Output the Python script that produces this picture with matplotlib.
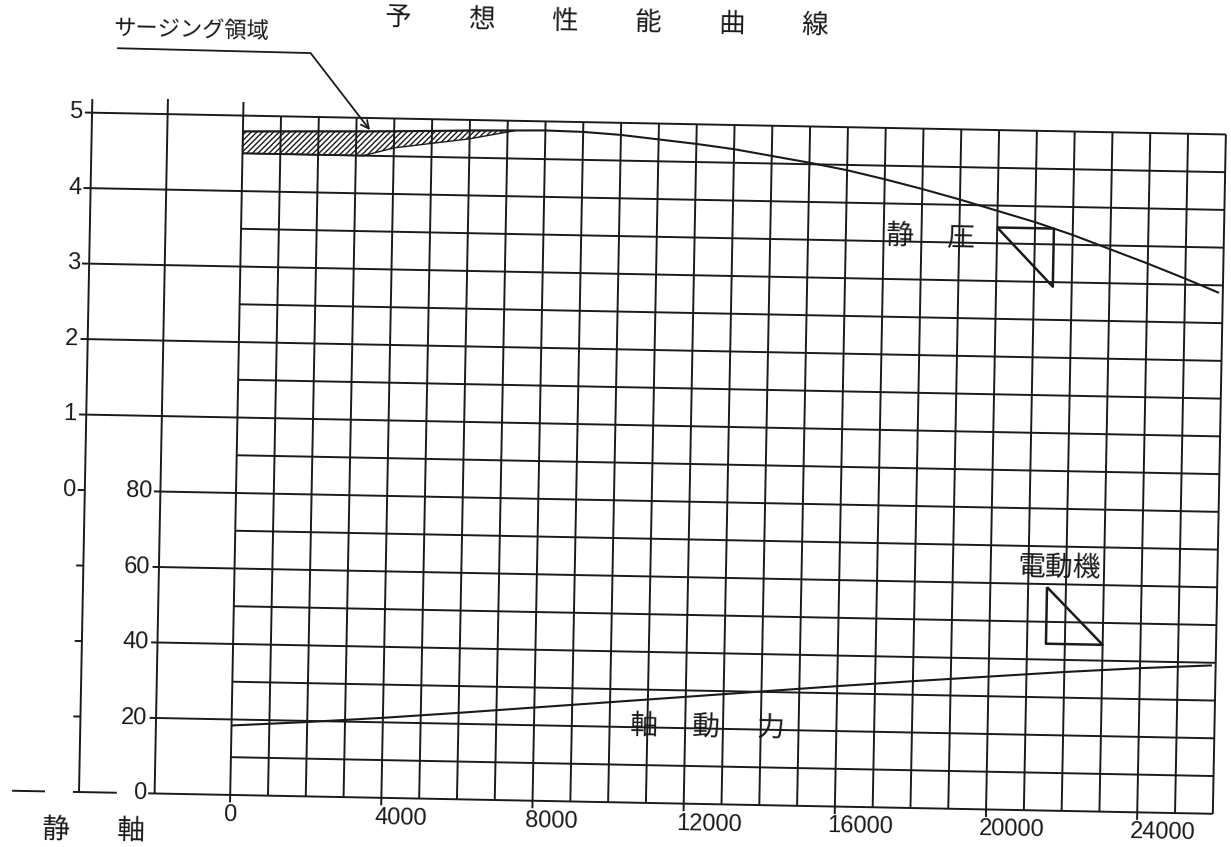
import matplotlib
matplotlib.use('Agg')
import matplotlib.pyplot as plt
from matplotlib.transforms import Affine2D
from matplotlib.patches import Polygon

plt.rcParams['font.family'] = ['Noto Sans CJK JP', 'DejaVu Sans']
plt.rcParams['hatch.color'] = '#1a1a1a'
plt.rcParams['hatch.linewidth'] = 1.0

# 横軸 (風量)
flow_ticks = [0, 4000, 8000, 12000, 16000, 20000, 24000]
flow_max = 26000
flow_step = 1000

# 静圧 曲線
sp_flow = [0, 2000, 4000, 6000, 8000, 9000, 10000, 11000, 12000, 13000, 14000, 15000,
           16000, 17000, 18000, 19000, 20000, 21000, 22000, 23000, 24000, 25000, 25900]
sp_val = [4.79, 4.81, 4.83, 4.86, 4.88, 4.87, 4.84, 4.79, 4.74, 4.68, 4.60, 4.52,
          4.43, 4.32, 4.20, 4.07, 3.93, 3.79, 3.63, 3.45, 3.27, 3.08, 2.90]

# 軸動力 曲線
pw_flow = [0, 2000, 4000, 6000, 8000, 10000, 12000, 14000, 16000, 18000, 20000,
           22000, 24000, 25900]
pw_val = [18.4, 19.7, 21.2, 22.9, 24.7, 26.5, 28.3, 30.1, 31.9, 33.6, 35.2,
          36.8, 38.2, 39.3]

# サージング領域
surge_flow = [0, 3200, 4000, 5000, 6000, 7200]
surge_top = [4.79, 4.82, 4.83, 4.845, 4.86, 4.87]
surge_bot = [4.50, 4.50, 4.61, 4.68, 4.75, 4.87]

static_ticks = [5, 4, 3, 2, 1, 0]
power_ticks = [80, 60, 40, 20, 0]

# 運転点の三角印
sp_tri_flow = [20000, 21500, 21500]
sp_tri_val = [3.71, 3.71, 2.94]
mot_tri_flow = [21500, 21500, 23000]
mot_tri_val = [59.2, 44.2, 44.2]

title_chars = ['予', '想', '性', '能', '曲', '線']


def pw2s(p):
    # 軸動力 80 -> 静圧 0, 20 per unit
    return (p - 80) / 20.0


ink = '#1a1a1a'
fig = plt.figure(figsize=(12.31, 8.47), dpi=100)
ax = fig.add_axes([0, 0, 1, 1])
ax.set_xlim(-6243, 26323)
ax.set_ylim(-4.689, 6.530)
ax.axis('off')

# scanned sheet is slightly tilted
cx, cy = ax.transData.transform((0, 0))
tr = ax.transData + Affine2D().rotate_deg_around(cx, cy, -1.1)
rot = -1.1


def line(xs, ys, lw=1.4):
    ax.plot(xs, ys, color=ink, lw=lw, transform=tr, clip_on=False,
            solid_capstyle='butt')


num_font = dict(family=['Liberation Sans', 'DejaVu Sans'], fontsize=17, color=ink)

# vertical axes
line([-4000, -4000], [-4, 5.18])
line([-2000, -2000], [-4, 5.2])
for x in range(0, flow_max + 1, flow_step):
    bottom = -4.1 if x in flow_ticks else -4
    top = 5.18 if x == 0 else 5
    line([x, x], [bottom, top])

# static pressure lines / ticks
for s in static_ticks:
    if s > 0:
        line([-4190, flow_max], [s, s])
    else:
        line([-4190, -4000], [s, s])
    ax.text(-4240, s, str(s), ha='right', va='center', transform=tr,
            rotation=rot, **num_font)
for s in [-1, -2, -3]:
    line([-4190, -4000], [s, s])
line([-4160, -3000], [-4, -4])
line([-5770, -4900], [-4, -4])

# power lines
for p in power_ticks:
    line([-2170, flow_max], [pw2s(p), pw2s(p)])
    ax.text(-2215, pw2s(p), str(p), ha='right', va='center', transform=tr,
            rotation=rot, **num_font)

# half step lines
for k in range(9):
    s = 4.5 - k
    line([0, flow_max], [s, s])

# x labels
for x in flow_ticks:
    ax.text(x - 190, -4.12, str(x), ha='left', va='top', transform=tr,
            rotation=rot, **num_font)

# surge hatch
verts = list(zip(surge_flow, surge_top)) + list(zip(surge_flow[::-1], surge_bot[::-1]))
ax.add_patch(Polygon(verts, closed=True, facecolor='none', edgecolor=ink,
                     hatch='//////', lw=1.0, transform=tr))

# curves
line(sp_flow, sp_val, lw=1.5)
line(pw_flow, [pw2s(p) for p in pw_val], lw=1.5)

# triangles
line(sp_tri_flow + sp_tri_flow[:1], sp_tri_val + sp_tri_val[:1], lw=1.8)
mv = [pw2s(p) for p in mot_tri_val]
line(mot_tri_flow + mot_tri_flow[:1], mv + mv[:1], lw=1.8)

# annotation
line([-3370, 1750], [5.86, 5.845], lw=1.3)
ax.annotate('', xy=(3360, 4.84), xytext=(1750, 5.845), xycoords=tr, textcoords=tr,
            arrowprops=dict(arrowstyle='->', color=ink, lw=1.3, mutation_scale=14,
                            shrinkA=0, shrinkB=0))
ax.text(-1400, 6.12, 'サージング領域', ha='center', va='center', fontsize=16,
        color=ink, transform=tr, rotation=rot)

# labels
lab = dict(fontsize=20, color=ink, ha='center', va='center', transform=tr, rotation=rot)
ax.text(17430, 3.57, '静', **lab)
ax.text(19020, 3.57, '圧', **lab)
ax.text(21830, -0.78, '電動機', **lab)
ax.text(10910, -2.99, '軸', **lab)
ax.text(12550, -2.98, '動', **lab)
ax.text(14270, -2.97, '力', **lab)
ax.text(-4590, -4.51, '静', fontsize=20, color=ink, ha='center', va='center',
        transform=tr, rotation=rot)
ax.text(-2600, -4.50, '軸', fontsize=20, color=ink, ha='center', va='center',
        transform=tr, rotation=rot)

for i, ch in enumerate(title_chars):
    ax.text(4040 + 2206 * i, 6.33, ch, fontsize=19, color=ink, ha='center',
            va='center', transform=tr, rotation=rot)

fig.savefig('out.png', dpi=100)
